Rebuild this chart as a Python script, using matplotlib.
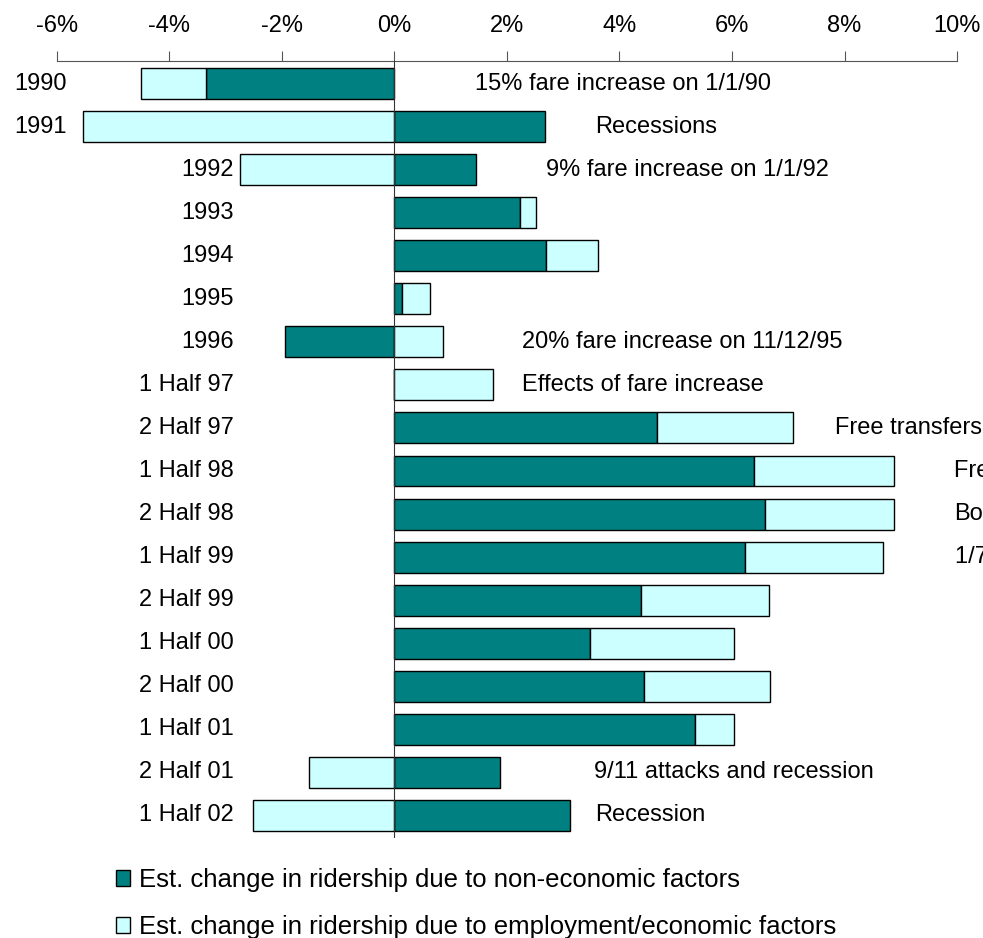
import numpy as np
import matplotlib.pyplot as plt
from matplotlib.patches import Patch

plt.rcParams['font.family'] = ['Liberation Sans', 'DejaVu Sans']

# data (percent change in ridership)
periods = ['1990', '1991', '1992', '1993', '1994', '1995', '1996',
           '1 Half 97', '2 Half 97', '1 Half 98', '2 Half 98', '1 Half 99',
           '2 Half 99', '1 Half 00', '2 Half 00', '1 Half 01', '2 Half 01',
           '1 Half 02']
non_economic = [-3.35, 2.67, 1.46, 2.23, 2.69, 0.14, -1.94, 0.0, 4.67, 6.40,
                6.58, 6.24, 4.39, 3.48, 4.44, 5.35, 1.87, 3.12]
economic = [-1.16, -5.54, -2.75, 0.28, 0.93, 0.50, 0.86, 1.76, 2.41, 2.48,
            2.30, 2.44, 2.26, 2.56, 2.23, 0.69, -1.52, -2.51]
events = ['15% fare increase on 1/1/90', 'Recessions',
          '9% fare increase on 1/1/92', '', '', '',
          '20% fare increase on 11/12/95', 'Effects of fare increase',
          'Free transfers', 'Free unlimited-ride passes', 'Bonus',
          '1/7-day passes', '', '', '', '',
          '9/11 attacks and recession', 'Recession']
legend_labels = ['Est. change in ridership due to non-economic factors',
                 'Est. change in ridership due to employment/economic factors']

# layout: where the note text starts on each row (in % units)
event_x = [1.43, 3.57, 2.70, 0, 0, 0, 2.27, 2.27, 7.83, 9.94, 9.94, 9.96,
           0, 0, 0, 0, 3.55, 3.57]

TEAL = '#008080'
CYAN = '#CCFFFF'
FS = 17

non_economic = np.array(non_economic)
economic = np.array(economic)
y = np.arange(len(periods))

# economic part stacks on the non-economic part when both go the same way
same_side = np.sign(non_economic) == np.sign(economic)
econ_left = np.where(same_side, non_economic, 0.0)

fig = plt.figure(figsize=(9.83, 9.38), dpi=100)
ax = fig.add_axes([0.0577, 0.1066, 0.9159, 0.8284])

ax.barh(y, non_economic, height=0.72, color=TEAL, edgecolor='black',
        linewidth=1.0, zorder=2)
ax.barh(y, economic, left=econ_left, height=0.72, color=CYAN,
        edgecolor='black', linewidth=1.0, zorder=2)
ax.axvline(0, color='#333333', linewidth=0.8, zorder=3)

ax.set_xlim(-6, 10)
ax.set_ylim(17.53, -0.53)
ax.set_xticks(np.arange(-6, 11, 2))
ax.set_xticklabels([f'{v}%' for v in range(-6, 11, 2)])
ax.xaxis.tick_top()
ax.tick_params(axis='x', direction='out', length=7, width=0.8,
               color='#555555', labelsize=FS, pad=10)
ax.set_yticks([])
for side in ['left', 'right', 'bottom']:
    ax.spines[side].set_visible(False)
ax.spines['top'].set_color('#555555')
ax.spines['top'].set_linewidth(0.8)

# category labels sit left of the bars
for i, name in enumerate(periods):
    lx = -5.83 if i < 2 else -2.86
    ax.text(lx, i, name, ha='right', va='center', fontsize=FS,
            clip_on=False)

# notes; the ones near the right edge run off the figure, as in the original
for i, note in enumerate(events):
    if note:
        ax.text(event_x[i], i, note, ha='left', va='center', fontsize=FS,
                clip_on=False)

handles = [Patch(facecolor=TEAL, edgecolor='black', linewidth=1.0),
           Patch(facecolor=CYAN, edgecolor='black', linewidth=1.0)]
fig.legend(handles, legend_labels, loc='upper left',
           bbox_to_anchor=(116 / 983, 1 - 868 / 938), frameon=False,
           fontsize=18.5, handlelength=0.55, handleheight=0.55,
           handletextpad=0.35, labelspacing=0.9, borderpad=0,
           borderaxespad=0)

fig.savefig('out.png', dpi=100)
